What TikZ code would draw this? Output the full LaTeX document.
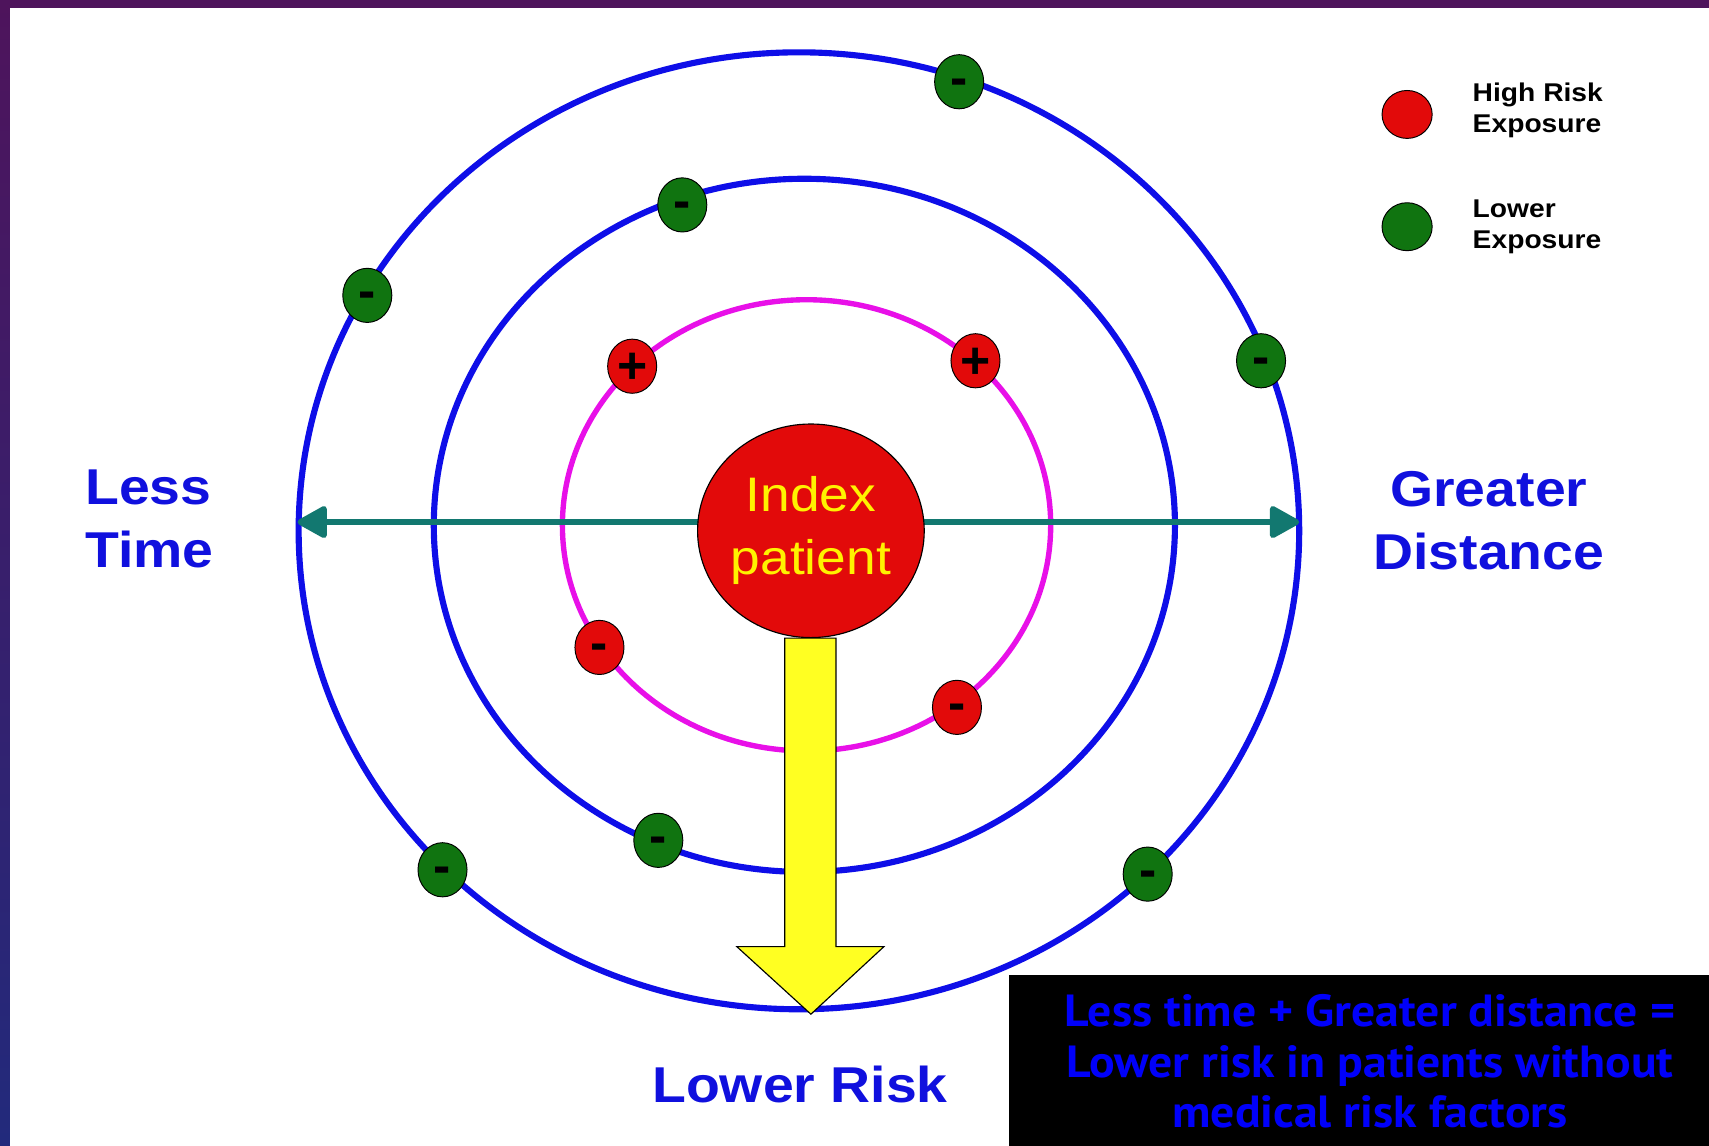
\documentclass[tikz,border=0pt]{standalone}
\usepackage{fontspec}
\setmainfont{Liberation Sans}
\newfontfamily\labelfont[FakeStretch=1.1]{Liberation Sans}
\newfontfamily\notefont[FakeStretch=1.06]{PT Sans}
\usetikzlibrary{arrows.meta,shapes.geometric}

\definecolor{framepurple}{RGB}{78,20,92}
\definecolor{framenavy}{RGB}{34,42,124}
\definecolor{ringblue}{RGB}{14,14,232}
\definecolor{ringmagenta}{RGB}{232,16,232}
\definecolor{axisteal}{RGB}{18,120,112}
\definecolor{dotred}{RGB}{226,10,10}
\definecolor{dotgreen}{RGB}{16,116,16}
\definecolor{arrowyellow}{RGB}{255,255,34}
\definecolor{labelblue}{RGB}{16,16,222}
\definecolor{noteblue}{RGB}{0,0,250}

\tikzset{axistip/.tip={Triangle[length=17pt,width=18pt,round]}}

\begin{document}
\begin{tikzpicture}[x=0.02cm,y=-0.02cm,
  ring/.style={draw=ringblue,line width=3.2pt},
  dotbase/.style={ellipse,draw=black,line width=0.5pt,inner sep=0pt,
    minimum width=0.9cm,minimum height=0.86cm,
    font=\bfseries\fontsize{27}{27}\selectfont,text=black},
  hidot/.style={dotbase,fill=dotred},
  lodot/.style={dotbase,fill=dotgreen},
  plussign/.style={text height=19pt,text depth=1pt},
  minussign/.style={text height=17pt,text depth=3pt},
  keydot/.style={dotbase,minimum width=0.92cm,minimum height=0.88cm},
  keytext/.style={anchor=west,align=left,text=black,
    font=\labelfont\bfseries\fontsize{13.4}{16.4}\selectfont},
  sidelabel/.style={text=labelblue,
    font=\labelfont\bfseries\fontsize{26.3}{33}\selectfont}
]
\useasboundingbox (0,0) rectangle (1568,1051);

% frame and page
\shade[top color=framepurple,bottom color=framenavy] (0,0) rectangle (1568,1051);
\fill[white] (9,7) rectangle (1568,1051);

% exposure rings
\draw[ring] (733,487) ellipse [x radius=459, y radius=439];
\draw[ring] (738,482) ellipse [x radius=340, y radius=318];
\draw[draw=ringmagenta,line width=2.8pt] (740,482) ellipse [x radius=224, y radius=207];

% time / distance axis
\coordinate (axisL) at (273,479);
\coordinate (axisR) at (1192,479);
\draw[draw=axisteal,fill=axisteal,line width=3pt,axistip-axistip] (axisL) -- (axisR);

% index patient
\node[ellipse,draw=black,line width=0.6pt,fill=dotred,
  minimum width=4.16cm,minimum height=3.92cm,inner sep=0pt,
  align=center,text=yellow,
  font=\labelfont\fontsize{25.3}{33}\selectfont] (idx) at (744,487) {Index\\patient};

% risk arrow
\draw[fill=arrowyellow,draw=black,line width=0.6pt]
  ([xshift=-0.48cm]idx.south) -- ++(0,283) -- ++(-44,0) -- ++(68,62)
  -- ++(67,-62) -- ++(-44,0) -- ++(0,-283) -- cycle;

% contacts on the rings
\node[hidot,plussign] (r1) at (580,336) {+};
\node[hidot,plussign] (r2) at (895,331) {+};
\node[hidot,minussign] (r3) at (550,594) {-};
\node[hidot,minussign] (r4) at (878,649) {-};

\node[lodot,minussign] (g1) at (880,75) {-};
\node[lodot,minussign] (g2) at (337,271) {-};
\node[lodot,minussign] (g3) at (1157,331) {-};
\node[lodot,minussign] (g4) at (406,798) {-};
\node[lodot,minussign] (g5) at (1053,802) {-};
\node[lodot,minussign] (g6) at (626,188) {-};
\node[lodot,minussign] (g7) at (604,771) {-};

% key
\node[keydot,fill=dotred] (keyhi) at (1291,105) {};
\node[keydot,fill=dotgreen] (keylo) at (1291,208) {};
\node[keytext] (keyhitext) at (1345,101) {High Risk\\Exposure};
\node[keytext] (keylotext) at (1345,208) {Lower\\Exposure};

% side labels
\node[sidelabel,anchor=west,align=left] (time) at (72,476) {Less\\Time};
\node[sidelabel,align=center] (dist) at (1366,478) {Greater\\Distance};
\node[sidelabel] (risk) at (734,995) {Lower Risk};

% summary box
\fill[black] (926,895) rectangle (1568,1051);
\node[align=center,text=noteblue,
  font=\notefont\bfseries\fontsize{23.5}{26.4}\selectfont] (note) at (1257,974)
  {Less time + Greater distance =\\Lower risk in patients without\\medical risk factors};
\end{tikzpicture}
\end{document}
